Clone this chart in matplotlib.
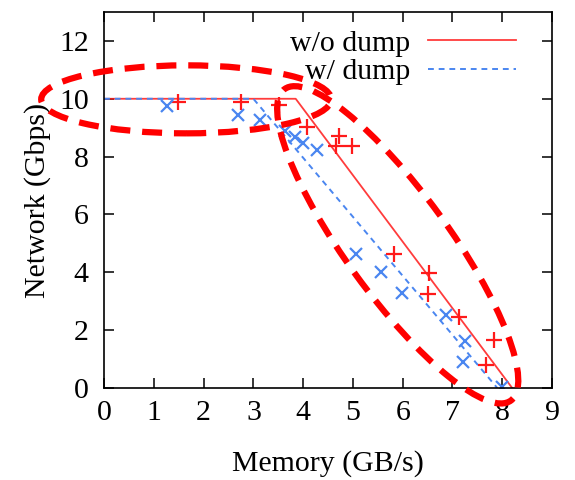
import matplotlib
matplotlib.use("Agg")
import matplotlib.pyplot as plt
from matplotlib.patches import Ellipse
from matplotlib.transforms import ScaledTranslation

# Model curves (piecewise linear)
mem_wo_line = [0.0, 3.85, 8.2]
net_wo_line = [10.0, 10.0, 0.0]
mem_w_line = [0.0, 3.0, 7.9]
net_w_line = [10.0, 10.0, 0.0]

# Measured points
mem_wo_pts = [1.49, 2.76, 3.51, 4.08, 4.72, 4.65, 4.98, 5.83, 6.53, 6.50, 7.13, 7.84, 7.67]
net_wo_pts = [9.90, 9.90, 9.77, 9.04, 8.70, 8.37, 8.37, 4.64, 3.98, 3.26, 2.46, 1.65, 0.79]
mem_w_pts = [1.26, 2.69, 3.13, 3.63, 3.83, 4.00, 4.28, 5.06, 5.56, 5.98, 6.87, 7.25, 7.22, 8.00]
net_w_pts = [9.75, 9.43, 9.27, 8.89, 8.69, 8.48, 8.24, 4.64, 4.01, 3.29, 2.51, 1.62, 0.91, 0.05]

x_ticks = list(range(0, 10))
y_ticks = list(range(0, 13, 2))

RED = "#ff1a1a"
BLUE = "#4a86f0"
FS = 21.5

plt.rcParams["font.family"] = ["Liberation Serif", "DejaVu Serif"]

fig = plt.figure(figsize=(5.75, 4.8), dpi=100)
ax = fig.add_axes([0.181, 0.1917, 0.779, 0.7833])

ax.plot(mem_wo_line, net_wo_line, color=RED, lw=1.3, alpha=0.85, label="w/o dump")
ax.plot(mem_w_line, net_w_line, color=BLUE, lw=1.4, ls=(0, (3, 2.5)), label="w/ dump")
ax.plot(mem_wo_pts, net_wo_pts, ls="none", marker="+", ms=11.5, mew=1.6, color=RED)
ax.plot(mem_w_pts, net_w_pts, ls="none", marker="x", ms=8.5, mew=1.6, color=BLUE)

ax.set_xlim(0, 9)
ax.set_ylim(0, 13)
ax.set_xticks(x_ticks)
ax.set_yticks(y_ticks)
ax.tick_params(direction="in", length=7, width=1.1, top=True, right=True,
               labelsize=FS)
ax.tick_params(axis="x", pad=9)
ax.tick_params(axis="y", pad=11)
for s in ax.spines.values():
    s.set_linewidth(1.2)

ax.set_xlabel("Memory (GB/s)", fontsize=FS, labelpad=17)
ax.set_ylabel("Network (Gbps)", fontsize=FS, labelpad=6)

ax_w = 0.779 * 575
ax_h = 0.7833 * 480
leg = ax.legend(loc="upper right", frameon=False, markerfirst=False, fontsize=FS,
                handlelength=2.95, handletextpad=0.6, labelspacing=0.05,
                borderaxespad=0.0,
                bbox_to_anchor=(1.0 - 24 / ax_w, 1.0 - 6 / ax_h))

# Highlighted regions: dashed ellipses anchored at data positions, sized in inches
def highlight(cx, cy, w_in, h_in, angle):
    tr = fig.dpi_scale_trans + ScaledTranslation(cx, cy, ax.transData)
    e = Ellipse((0, 0), w_in, h_in, angle=angle, transform=tr, fill=False,
                edgecolor="#ff0000", lw=4.5, ls=(0, (3.2, 1.9)), clip_on=False,
                zorder=5)
    fig.add_artist(e)

highlight(1.65, 9.98, 2.9, 0.68, 0)
highlight(5.9, 4.95, 3.85, 1.03, -54)

fig.savefig("out.png", dpi=100)
